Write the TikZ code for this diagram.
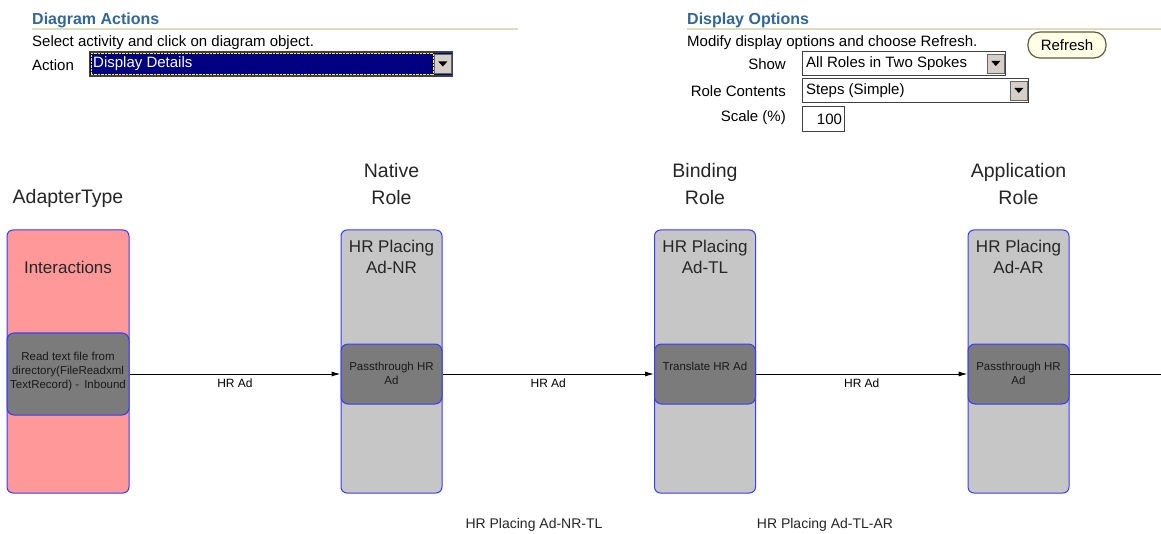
\documentclass[tikz,border=0pt]{standalone}
\usepackage{fontspec}
\setmainfont{Liberation Sans}
\usetikzlibrary{positioning, arrows.meta}
\definecolor{hdblue}{HTML}{336699}
\definecolor{hdline}{HTML}{DCDCBE}
\definecolor{navysel}{HTML}{000080}
\definecolor{btnface}{HTML}{D4D0C8}
\definecolor{refreshfill}{HTML}{FFFFE6}
\definecolor{refreshdraw}{HTML}{5C5C3D}
\definecolor{lanepink}{HTML}{FF9999}
\definecolor{lanegray}{HTML}{C6C6C6}
\definecolor{stepgray}{HTML}{7B7B7B}
\definecolor{laneblue}{HTML}{3A3AFF}
\tikzset{
  hdr/.style      = {anchor=west, inner sep=0pt, text=hdblue,
                     font=\fontsize{16}{18}\selectfont\bfseries},
  ui/.style       = {inner sep=0pt, font=\fontsize{15}{17}\selectfont},
  combo/.style    = {rectangle, draw=black!75, line width=1.2pt, fill=white,
                     anchor=west, inner sep=0pt, minimum height=24pt},
  dropbtn/.style  = {rectangle, draw=black!60, line width=0.8pt, fill=btnface,
                     anchor=east, inner sep=0pt, minimum width=17pt, minimum height=19pt},
  refresh/.style  = {rectangle, rounded corners=12pt, draw=refreshdraw, line width=1.2pt,
                     fill=refreshfill, minimum width=78pt, minimum height=26pt,
                     inner sep=0pt, font=\fontsize{15}{17}\selectfont},
  colhead/.style  = {align=center, inner sep=0pt, text=black!85,
                     font=\fontsize{19.5}{27}\selectfont},
  lane/.style     = {rectangle, rounded corners=6pt, draw=laneblue, line width=1pt,
                     minimum width=101pt, minimum height=263pt, inner sep=0pt},
  lanetitle/.style= {align=center, inner sep=0pt, text=black!85,
                     font=\fontsize{17}{21}\selectfont},
  stepbox/.style  = {rectangle, rounded corners=7pt, draw=laneblue, line width=1pt,
                     fill=stepgray, minimum width=101pt, minimum height=60pt, inner sep=0pt},
  steptext/.style = {align=center, inner sep=0pt, text=black!90,
                     font=\fontsize{11.5}{14}\selectfont},
  lbl/.style      = {inner sep=0pt, font=\fontsize{12}{14}\selectfont},
  note/.style     = {inner sep=0pt, text=black!85, font=\fontsize{14}{16}\selectfont},
  flow/.style     = {-{Latex[length=9pt,width=5pt]}, line width=1pt, draw=black},
  flowplain/.style= {line width=1pt, draw=black},
}
\begin{document}
\begin{tikzpicture}[x=1pt, y=-1pt]
  \useasboundingbox[fill=white] (0,0) rectangle (1161,534);

  % Diagram Actions
  \node[hdr] (hdA) at (32,20) {Diagram Actions};
  \draw[hdline, line width=1.2pt] (32,29) -- (518,29);
  \node[ui, anchor=west] (selTxt) at (32,43) {Select activity and click on diagram object.};
  \node[ui, anchor=west] (actLbl) at (32,65) {Action};
  \node[combo, fill=navysel, minimum width=363pt] (cbAction) at (89,64) {};
  \draw[yellow!85, densely dotted] ([shift={(2pt,-2pt)}]cbAction.north west)
       rectangle ([shift={(-20pt,2pt)}]cbAction.south east);
  \node[ui, anchor=west, text=white] (actVal) at (93,64) {Display Details};
  \node[dropbtn] (btnAction) at ([xshift=-1.5pt]cbAction.east) {};
  \fill ([shift={(-4.5pt,2.5pt)}]btnAction.center) -- ++(9pt,0pt) -- ++(-4.5pt,-5pt) -- cycle;

  % Display Options
  \node[hdr] (hdD) at (687,20) {Display Options};
  \draw[hdline, line width=1.2pt] (687,29) -- (1161,29);
  \node[ui, anchor=west] (modTxt) at (687,43) {Modify display options and choose Refresh.};
  \node[refresh] (btnRefresh) at (1067,45) {Refresh};

  \node[ui, anchor=east] (showLbl) at (786,64) {Show};
  \node[combo, minimum width=203pt] (cbShow) at (802,63.5) {};
  \node[ui, anchor=west] (showVal) at (806,64) {All Roles in Two Spokes};
  \node[dropbtn] (btnShow) at ([xshift=-1.5pt]cbShow.east) {};
  \fill ([shift={(-4.5pt,2.5pt)}]btnShow.center) -- ++(9pt,0pt) -- ++(-4.5pt,-5pt) -- cycle;

  \node[ui, anchor=east] (roleLbl) at (786,91) {Role Contents};
  \node[combo, minimum width=226pt] (cbRole) at (802,90.5) {};
  \node[ui, anchor=west] (roleVal) at (806,91) {Steps (Simple)};
  \node[dropbtn] (btnRole) at ([xshift=-1.5pt]cbRole.east) {};
  \fill ([shift={(-4.5pt,2.5pt)}]btnRole.center) -- ++(9pt,0pt) -- ++(-4.5pt,-5pt) -- cycle;

  \node[ui, anchor=east] (scaleLbl) at (786,118) {Scale (\%)};
  \node[combo, minimum width=42pt, minimum height=25pt] (cbScale) at (802,119) {};
  \node[ui, anchor=east] (scaleVal) at ([xshift=-3pt]cbScale.east) {100};

  % column headers
  \node[colhead] (hAd) at (68,198) {AdapterType};
  \node[colhead] (hNR) at (391.5,184.5) {Native\\Role};
  \node[colhead] (hTL) at (705,184.5) {Binding\\Role};
  \node[colhead] (hAR) at (1018.5,184.5) {Application\\Role};

  % lanes
  \node[lane, fill=lanepink, minimum width=122pt] (ad) at (68,361.5) {};
  \node[lane, fill=lanegray] (nr) at (391.5,361.5) {};
  \node[lane, fill=lanegray] (tl) at (705,361.5) {};
  \node[lane, fill=lanegray] (ar) at (1018.5,361.5) {};
  \node[lanetitle] (adT) at (68,267) {Interactions};
  \node[lanetitle] (nrT) at (391.5,256.5) {HR Placing\\Ad-NR};
  \node[lanetitle] (tlT) at (705,256.5) {HR Placing\\Ad-TL};
  \node[lanetitle] (arT) at (1018.5,256.5) {HR Placing\\Ad-AR};

  % steps
  \node[stepbox, minimum width=122pt, minimum height=82pt] (adS) at (68,374) {};
  \node[stepbox] (nrS) at (391.5,374) {};
  \node[stepbox] (tlS) at (705,374) {};
  \node[stepbox] (arS) at (1018.5,374) {};
  \node[steptext, below=19pt of adS.north] (adX)
       {Read text file from\\directory(FileReadxml\\TextRecord) -\, Inbound};
  \node[steptext, below=18.5pt of nrS.north] (nrX) {Passthrough HR\\Ad};
  \node[steptext, below=18.5pt of tlS.north] (tlX) {Translate HR Ad};
  \node[steptext, below=18.5pt of arS.north] (arX) {Passthrough HR\\Ad};

  % flows
  \coordinate (rimR) at (1161,374);
  \draw[flow] (adS.east) -- node[lbl, below=4pt] {HR Ad} (nrS.west);
  \draw[flow] (nrS.east) -- node[lbl, below=4pt] {HR Ad} (tlS.west);
  \draw[flow] (tlS.east) -- node[lbl, below=4pt] {HR Ad} (arS.west);
  \draw[flowplain] (arS.east) -- (rimR);

  % links
  \node[note] (lnkNT) at (534,525) {HR Placing Ad-NR-TL};
  \node[note] (lnkTA) at (825,525) {HR Placing Ad-TL-AR};
\end{tikzpicture}
\end{document}
